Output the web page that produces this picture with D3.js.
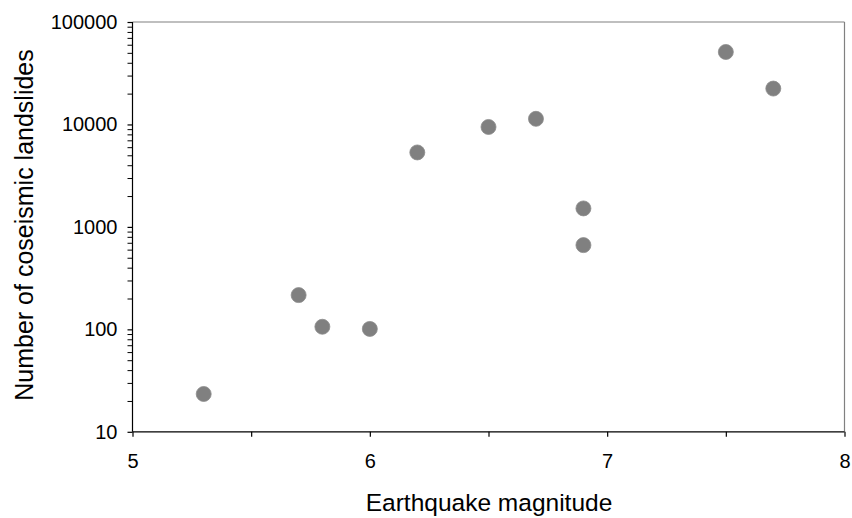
<!DOCTYPE html>
<html><head><meta charset="utf-8">
<script src="https://cdn.jsdelivr.net/npm/d3@7"></script>
<style>
html,body{margin:0;padding:0;background:#fff;}
svg{display:block;font-family:Arial,"Liberation Sans",sans-serif;}
</style></head>
<body>
<svg id="c" width="852" height="518"></svg>
<script>
const magnitudes = [5.3, 5.7, 5.8, 6.0, 6.2, 6.5, 6.7, 6.9, 6.9, 7.5, 7.7];
const landslides = [23.4, 216, 106, 101, 5330, 9450, 11350, 1515, 664, 51000, 22400];
const xTickValues = [5, 5.5, 6, 6.5, 7, 7.5, 8];
const xTickLabels = ["5", "", "6", "", "7", "", "8"];
const yMajorTicks = [10, 100, 1000, 10000, 100000];
const yMajorLabels = ["10", "100", "1000", "10000", "100000"];
const xTitle = "Earthquake magnitude";
const yTitle = "Number of coseismic landslides";

const svg = d3.select("#c");
const L = 132.5, R = 844.5, T = 22, B = 431.8;
const x = d3.scaleLinear().domain([5, 8]).range([L, R]);
const y = d3.scaleLog().domain([10, 100000]).range([B, T]);

// frame (top & right grey)
svg.append("line").attr("x1", L).attr("x2", R).attr("y1", T).attr("y2", T)
  .attr("stroke", "#808080").attr("stroke-width", 1.2);
svg.append("line").attr("x1", R).attr("x2", R).attr("y1", T).attr("y2", B)
  .attr("stroke", "#808080").attr("stroke-width", 1.2);

// y minor ticks
const yMinor = [];
for (let d = 10; d < 100000; d *= 10) for (let k = 2; k <= 9; k++) yMinor.push(d * k);
const yAxisMinor = d3.axisLeft(y).tickValues(yMinor).tickSize(5).tickFormat("");
svg.append("g").attr("transform", `translate(${L},0)`).call(yAxisMinor)
  .call(g => { g.select(".domain").remove(); g.selectAll("line").attr("stroke", "#000").attr("stroke-width", 1); });

// y axis
const yAxis = d3.axisLeft(y).tickValues(yMajorTicks).tickSize(5).tickPadding(10)
  .tickFormat((d, i) => yMajorLabels[i]);
svg.append("g").attr("transform", `translate(${L},0)`).call(yAxis)
  .call(g => {
    g.select(".domain").attr("d", `M0,${T}V${B}`).attr("stroke", "#000").attr("stroke-width", 1.2);
    g.selectAll("line").attr("stroke", "#000").attr("stroke-width", 1.2);
    g.selectAll("text").attr("font-size", 20).attr("fill", "#000")
      .attr("font-family", "Arial, 'Liberation Sans', sans-serif");
  });

// x axis
const xAxis = d3.axisBottom(x).tickValues(xTickValues).tickSize(5).tickPadding(17)
  .tickFormat((d, i) => xTickLabels[i]);
svg.append("g").attr("transform", `translate(0,${B})`).call(xAxis)
  .call(g => {
    g.select(".domain").attr("d", `M${L},0H${R}`).attr("stroke", "#000").attr("stroke-width", 1.2);
    g.selectAll("line").attr("stroke", "#000").attr("stroke-width", 1.2);
    g.selectAll("text").attr("font-size", 20).attr("fill", "#000")
      .attr("font-family", "Arial, 'Liberation Sans', sans-serif");
  });

// points
svg.append("g").selectAll("circle").data(magnitudes).join("circle")
  .attr("cx", d => x(d)).attr("cy", (d, i) => y(landslides[i]))
  .attr("r", 7.5).attr("fill", "#808080").attr("stroke", "#8c8c8c").attr("stroke-width", 0.8);

// titles
svg.append("text").attr("x", (L + R) / 2 + 0.5).attr("y", 510.5).attr("text-anchor", "middle")
  .attr("font-size", 24.5).attr("fill", "#000").text(xTitle);
svg.append("text").attr("transform", `translate(33,225) rotate(-90)`).attr("text-anchor", "middle")
  .attr("font-size", 25).attr("fill", "#000").text(yTitle);
</script>
</body></html>
